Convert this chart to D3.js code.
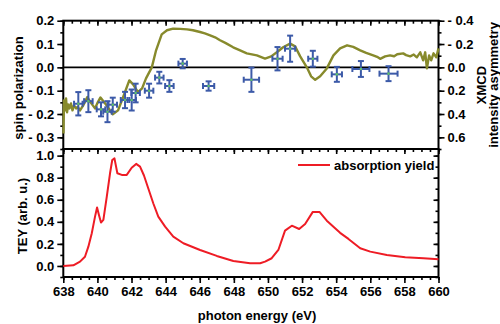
<!DOCTYPE html>
<html><head><meta charset="utf-8">
<script src="https://cdn.jsdelivr.net/npm/d3@7"></script>
<style>
html,body{margin:0;padding:0;background:#fff;}
svg text{font-family:"Liberation Sans",Arial,Helvetica,sans-serif;font-weight:bold;fill:#000;}
</style></head><body>
<svg id="c" width="500" height="324"></svg>
<script>
// ---- data ----
const spinEnergy = [638.88,639.47,640.21,640.59,640.90,641.62,642.01,642.24,643.03,643.63,644.22,645.00,646.52,649.03,650.56,651.30,652.63,654.04,655.45,657.07];
const spinPol    = [-0.156,-0.145,-0.180,-0.190,-0.160,-0.140,-0.140,-0.110,-0.100,-0.044,-0.080,0.016,-0.080,-0.053,0.037,0.080,0.037,-0.030,-0.007,-0.027];
const spinPolErr = [0.050,0.047,0.030,0.045,0.030,0.035,0.045,0.040,0.030,0.025,0.025,0.020,0.020,0.052,0.050,0.056,0.034,0.032,0.034,0.032];
const spinEErr   = [0.25,0.25,0.25,0.25,0.25,0.25,0.25,0.25,0.25,0.25,0.25,0.25,0.33,0.45,0.30,0.30,0.27,0.30,0.50,0.53];

const xmcdEnergy = [638.01,638.04,638.10,638.16,638.22,638.28,638.36,638.45,638.54,638.63,638.75,638.85,638.98,639.15,639.41,639.60,639.86,640.02,640.18,640.50,640.90,641.21,641.50,641.87,642.09,642.38,642.62,642.85,643.19,643.44,643.77,644.08,644.44,644.85,645.26,645.60,646.02,646.30,646.61,646.90,647.19,647.50,647.96,648.30,648.76,649.35,649.83,650.19,650.52,650.89,651.30,651.59,651.89,652.28,652.53,652.77,653.06,653.45,653.84,654.23,654.64,655.00,655.41,655.76,656.17,656.40,656.58,656.87,657.16,657.40,657.58,657.93,658.10,658.34,658.55,658.73,658.93,659.10,659.22,659.32,659.45,659.57,659.71,659.87,660.00];
const xmcdValue  = [0.567,0.283,0.369,0.266,0.386,0.318,0.352,0.309,0.369,0.326,0.352,0.340,0.369,0.330,0.255,0.300,0.352,0.300,0.258,0.318,0.403,0.369,0.258,0.112,0.146,0.212,0.180,0.094,0.000,-0.146,-0.283,-0.318,-0.332,-0.330,-0.326,-0.318,-0.303,-0.292,-0.275,-0.258,-0.232,-0.210,-0.172,-0.150,-0.120,-0.103,-0.075,-0.094,-0.129,-0.172,-0.203,-0.180,-0.094,0.000,0.077,0.107,0.077,0.009,-0.103,-0.163,-0.189,-0.176,-0.146,-0.124,-0.103,-0.090,-0.073,-0.094,-0.103,-0.095,-0.112,-0.120,-0.105,-0.094,-0.110,-0.086,-0.129,-0.060,-0.129,0.009,-0.103,-0.060,-0.120,-0.086,-0.163];

const teyEnergy = [638.00,638.59,638.98,639.27,639.47,639.67,639.86,639.98,640.09,640.21,640.35,640.55,640.74,640.87,641.00,641.17,641.43,641.72,642.01,642.27,642.50,642.73,642.99,643.28,643.57,643.97,644.45,645.04,646.02,647.00,647.97,648.95,649.54,649.83,650.22,650.61,651.00,651.40,651.83,652.18,652.63,653.02,653.45,654.23,654.72,655.41,656.00,656.97,658.05,659.12,660.00];
const teyValue  = [0.000,0.006,0.039,0.084,0.175,0.296,0.447,0.530,0.462,0.393,0.417,0.628,0.840,0.960,0.975,0.840,0.825,0.825,0.890,0.925,0.900,0.820,0.700,0.566,0.447,0.356,0.266,0.206,0.145,0.091,0.045,0.024,0.024,0.039,0.070,0.145,0.320,0.365,0.335,0.380,0.490,0.490,0.410,0.300,0.245,0.160,0.130,0.100,0.079,0.070,0.060];

const energyTicks = [638,640,642,644,646,648,650,652,654,656,658,660];
const spinTicks = [-0.3,-0.2,-0.1,0.0,0.1,0.2];
const xmcdTicks = [-0.4,-0.2,0.0,0.2,0.4,0.6];
const teyTicks = [0.0,0.2,0.4,0.6,0.8,1.0];
const legendLabel = "absorption yield";

// ---- layout ----
const svg = d3.select("#c");
const L = 63.3, R = 438.5, T = 20.7, M = 149, B = 277;
const x = d3.scaleLinear().domain([638,660]).range([L,R]);
const ySpin = d3.scaleLinear().domain([-0.35,0.2]).range([M,T]);
const yXmcd = d3.scaleLinear().domain([-0.4,0.7]).range([T,M]);
const yTey = d3.scaleLinear().domain([-0.1,1.06]).range([B,M]);

const fmt = d => Math.abs(d) < 1e-9 ? "0.0" : (d < 0 ? "- " + Math.abs(d).toFixed(1) : d.toFixed(1));
const fmtR = d => Math.abs(d) < 1e-9 ? "0.0" : (d < 0 ? "- " + Math.abs(d).toFixed(1) : d.toFixed(1));

function axis(g, gen, scale, minorVals, minorLen, majorVals, majorLen, labels, fmtf) {
  // draw via d3 axis for majors
}

const minorE = d3.range(638, 660.01, 0.5);

// top panel axes
// left spin
svg.append("g").attr("transform",`translate(${L},0)`)
  .call(d3.axisLeft(ySpin).tickValues(d3.range(-0.35,0.201,0.05)).tickSize(3).tickFormat(""));
svg.append("g").attr("transform",`translate(${L},0)`)
  .call(d3.axisLeft(ySpin).tickValues(spinTicks).tickSize(6).tickPadding(3).tickFormat(fmt));
// right xmcd
svg.append("g").attr("transform",`translate(${R},0)`)
  .call(d3.axisRight(yXmcd).tickValues(d3.range(-0.4,0.701,0.1)).tickSize(3).tickFormat(""));
svg.append("g").attr("transform",`translate(${R},0)`)
  .call(d3.axisRight(yXmcd).tickValues(xmcdTicks).tickSize(6).tickPadding(3).tickFormat(fmtR));
// top edge inward
svg.append("g").attr("transform",`translate(0,${T})`)
  .call(d3.axisTop(x).tickValues(minorE).tickSize(-3).tickFormat(""));
svg.append("g").attr("transform",`translate(0,${T})`)
  .call(d3.axisTop(x).tickValues(energyTicks).tickSize(-5).tickFormat(""));
// middle edge inward into bottom panel
svg.append("g").attr("transform",`translate(0,${M})`)
  .call(d3.axisTop(x).tickValues(minorE).tickSize(-3).tickFormat(""));
svg.append("g").attr("transform",`translate(0,${M})`)
  .call(d3.axisTop(x).tickValues(energyTicks).tickSize(-5).tickFormat(""));

// bottom panel axes
svg.append("g").attr("transform",`translate(${L},0)`)
  .call(d3.axisLeft(yTey).tickValues(d3.range(-0.1,1.061,0.1)).tickSize(3).tickFormat(""));
svg.append("g").attr("transform",`translate(${L},0)`)
  .call(d3.axisLeft(yTey).tickValues(teyTicks).tickSize(6).tickPadding(3).tickFormat(d=>d.toFixed(1)));
svg.append("g").attr("transform",`translate(${R},0)`)
  .call(d3.axisRight(yTey).tickValues(d3.range(-0.1,1.061,0.1)).tickSize(-3).tickFormat(""));
svg.append("g").attr("transform",`translate(${R},0)`)
  .call(d3.axisRight(yTey).tickValues(teyTicks).tickSize(-5).tickFormat(""));
svg.append("g").attr("transform",`translate(0,${B})`)
  .call(d3.axisBottom(x).tickValues(minorE).tickSize(3).tickFormat(""));
svg.append("g").attr("transform",`translate(0,${B})`)
  .call(d3.axisBottom(x).tickValues(energyTicks).tickSize(6).tickPadding(4).tickFormat(d3.format("d")));

svg.selectAll(".domain").remove();
svg.selectAll(".tick line").attr("stroke","#000").attr("stroke-width",1.6);
svg.selectAll(".tick text").attr("font-size",13).attr("fill","#000");

// frames
svg.append("rect").attr("x",L).attr("y",T).attr("width",R-L).attr("height",M-T)
  .attr("fill","none").attr("stroke","#000").attr("stroke-width",2);
svg.append("rect").attr("x",L).attr("y",M).attr("width",R-L).attr("height",B-M)
  .attr("fill","none").attr("stroke","#000").attr("stroke-width",2);

// zero line
svg.append("line").attr("x1",L).attr("x2",R).attr("y1",ySpin(0)).attr("y2",ySpin(0))
  .attr("stroke","#000").attr("stroke-width",1.6);

// xmcd curve
const xm = xmcdEnergy.map((e,i)=>[e,xmcdValue[i]]);
svg.append("path").datum(xm)
  .attr("d", d3.line().x(d=>x(d[0])).y(d=>yXmcd(d[1])))
  .attr("fill","none").attr("stroke","#878a2c").attr("stroke-width",2.4).attr("stroke-linejoin","round");

// spin points with error bars
const pts = spinEnergy.map((e,i)=>({e, p:spinPol[i], ep:spinPolErr[i], ee:spinEErr[i]}));
const gp = svg.append("g").attr("stroke","#3c5aa8").attr("stroke-width",2);
pts.forEach(d=>{
  const cx = x(d.e), cy = ySpin(d.p);
  const y1 = ySpin(d.p + d.ep), y2 = ySpin(d.p - d.ep);
  const x1 = x(d.e - d.ee), x2 = x(d.e + d.ee);
  gp.append("line").attr("x1",cx).attr("x2",cx).attr("y1",y1).attr("y2",y2);
  gp.append("line").attr("x1",cx-3).attr("x2",cx+3).attr("y1",y1).attr("y2",y1);
  gp.append("line").attr("x1",cx-3).attr("x2",cx+3).attr("y1",y2).attr("y2",y2);
  gp.append("line").attr("x1",x1).attr("x2",x2).attr("y1",cy).attr("y2",cy);
  gp.append("line").attr("x1",x1).attr("x2",x1).attr("y1",cy-3).attr("y2",cy+3);
  gp.append("line").attr("x1",x2).attr("x2",x2).attr("y1",cy-3).attr("y2",cy+3);
});
svg.append("g").selectAll("circle").data(pts).join("circle")
  .attr("cx",d=>x(d.e)).attr("cy",d=>ySpin(d.p)).attr("r",1.3).attr("fill","#5fc06a");

// tey curve
const ty = teyEnergy.map((e,i)=>[e,teyValue[i]]);
svg.append("path").datum(ty)
  .attr("d", d3.line().x(d=>x(d[0])).y(d=>yTey(d[1])))
  .attr("fill","none").attr("stroke","#ee1c25").attr("stroke-width",2).attr("stroke-linejoin","round");

// legend
svg.append("line").attr("x1",298).attr("x2",330).attr("y1",165).attr("y2",165)
  .attr("stroke","#ee1c25").attr("stroke-width",2);
svg.append("text").attr("x",334).attr("y",169.5).attr("font-size",13).text(legendLabel);

// axis titles
svg.append("text").attr("transform","translate(23,88) rotate(-90)").attr("text-anchor","middle")
  .attr("font-size",13).text("spin polarization");
svg.append("text").attr("transform","translate(27,216) rotate(-90)").attr("text-anchor","middle")
  .attr("font-size",13).text("TEY (arb. u.)");
svg.append("text").attr("transform","translate(486,85) rotate(-90)").attr("text-anchor","middle")
  .attr("font-size",13).text("XMCD");
svg.append("text").attr("transform","translate(498,85) rotate(-90)").attr("text-anchor","middle")
  .attr("font-size",13).text("intensity asymmetry");
svg.append("text").attr("x",257).attr("y",320).attr("text-anchor","middle")
  .attr("font-size",13).text("photon energy (eV)");
</script></body></html>
